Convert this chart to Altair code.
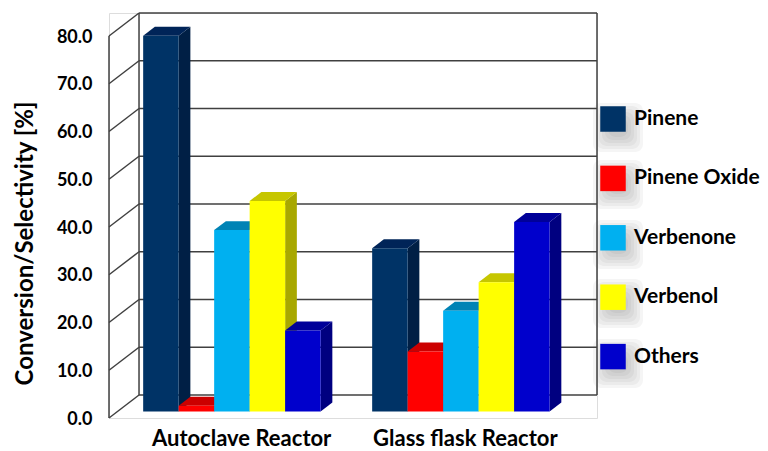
import altair as alt
import pandas as pd

reactors = ["Autoclave Reactor", "Glass flask Reactor"]
series = ["Pinene", "Pinene Oxide", "Verbenone", "Verbenol", "Others"]
autoclave = [78.7, 1.2, 38.0, 44.1, 17.0]
glass = [34.2, 12.6, 21.1, 27.1, 39.7]
ticks = [0, 10, 20, 30, 40, 50, 60, 70, 80]

front_colors = ["#003366", "#ff0000", "#00b0f0", "#ffff00", "#0000cc"]
side_colors = ["#001f45", "#b00000", "#00769f", "#a8a800", "#000080"]
top_colors = ["#002458", "#cc0000", "#0083b5", "#c6c600", "#000099"]
WALL = "#404040"
FONT = "Lato"

# projection of the 3D box
DEPTH_X, DEPTH_Y = 0.1311, 4.82
NEAR, FAR = 0.28, 0.67
BAR_W = 0.155
X_MAX = 2.1311
Y_MAX = 84.82


def px_u(px):
    return (px - 109.5) / 228.75


def px_v(py):
    return (418 - py) / 4.775


fronts, faces = [], []
face_id = 0
for g, values in enumerate([autoclave, glass]):
    start = g + 0.5 - 2.5 * BAR_W
    for i, v in enumerate(values):
        x0 = start + i * BAR_W
        x1 = x0 + BAR_W
        nx, ny = NEAR * DEPTH_X, NEAR * DEPTH_Y
        fx, fy = FAR * DEPTH_X, FAR * DEPTH_Y
        fronts.append(dict(series=series[i], x=x0 + nx, x2=x1 + nx, y=ny, y2=v + ny))
        for px, lo, hi in [(x1 + nx, ny, v + ny), (x1 + fx, fy, v + fy)]:
            faces.append(dict(id=f"f{face_id:02d}", shade=side_colors[i], x=px, lo=lo, hi=hi))
        face_id += 1
        for px, lo, hi in [
            (x0 + nx, v + ny, v + ny),
            (x0 + fx, v + ny, v + fy),
            (x1 + nx, v + ny, v + fy),
            (x1 + fx, v + fy, v + fy),
        ]:
            faces.append(dict(id=f"f{face_id:02d}", shade=top_colors[i], x=px, lo=lo, hi=hi))
        face_id += 1

walls = []
for t in ticks:
    walls.append(dict(x=DEPTH_X, x2=2 + DEPTH_X, y=t + DEPTH_Y, y2=t + DEPTH_Y))
    walls.append(dict(x=0, x2=DEPTH_X, y=t, y2=t + DEPTH_Y))
walls.append(dict(x=0, x2=0, y=0, y2=80))
walls.append(dict(x=DEPTH_X, x2=DEPTH_X, y=DEPTH_Y, y2=Y_MAX))
walls.append(dict(x=2 + DEPTH_X, x2=2 + DEPTH_X, y=DEPTH_Y, y2=Y_MAX))

shadows = []
for cy in [118, 175, 235, 294, 354]:
    for e in [2, 5, 8, 11, 14, 17]:
        shadows.append(dict(x=px_u(610 - e), x2=px_u(626 + e), y=px_v(cy + 2 - e), y2=px_v(cy + 17 + e)))

x_scale = alt.Scale(domain=[0, X_MAX], nice=False, zero=False)
y_scale = alt.Scale(domain=[0, Y_MAX], nice=False, zero=False)
y_axis = alt.Axis(
    values=ticks,
    format=".1f",
    title="Conversion/Selectivity [%]",
    titleFont=FONT,
    titleFontSize=24,
    titleFontWeight="bold",
    titleColor="#000000",
    titlePadding=19,
    titleY=230,
    labelFont=FONT,
    labelFontSize=18,
    labelFontWeight="bold",
    labelColor="#000000",
    labelPadding=17,
    labelOffset=1,
    labelOverlap=False,
    domain=False,
    ticks=False,
    grid=False,
)
X = alt.X("x:Q", scale=x_scale, axis=None)
Y = alt.Y("y:Q", scale=y_scale, axis=y_axis)

wall_layer = alt.Chart(pd.DataFrame(walls)).mark_rule(color=WALL, strokeWidth=1.5).encode(
    x=X, x2="x2:Q", y=Y, y2="y2:Q"
)
shadow_layer = alt.Chart(pd.DataFrame(shadows)).mark_rect(
    color="#555555", opacity=0.06, cornerRadius=8, clip=False
).encode(x=X, x2="x2:Q", y=Y, y2="y2:Q")

face_layer = alt.Chart(pd.DataFrame(faces)).mark_area(interpolate="linear", orient="vertical").encode(
    x=X,
    y=alt.Y("lo:Q", scale=y_scale, axis=y_axis, stack=None),
    y2="hi:Q",
    detail="id:N",
    fill=alt.Fill("shade:N", scale=None),
)

front_layer = alt.Chart(pd.DataFrame(fronts)).mark_rect().encode(
    x=X,
    x2="x2:Q",
    y=Y,
    y2="y2:Q",
    color=alt.Color(
        "series:N",
        scale=alt.Scale(domain=series, range=front_colors),
        legend=alt.Legend(
            title=None,
            orient="none",
            legendX=491,
            legendY=93,
            symbolType="square",
            symbolSize=650,
            symbolStrokeWidth=0,
            symbolOpacity=1,
            rowPadding=33.4,
            labelFont=FONT,
            labelFontSize=21,
            labelFontWeight="bold",
            labelColor="#000000",
            labelOffset=8,
            labelLimit=200,
        ),
    ),
)

cat_layer = alt.Chart(pd.DataFrame({"x": [px_u(242), px_u(465.5)], "label": reactors})).mark_text(
    font=FONT, fontSize=22, fontWeight="bold", color="#000000", baseline="alphabetic"
).encode(x=X, y=alt.value(433), text="label:N")

chart = alt.layer(wall_layer, shadow_layer, face_layer, front_layer, cat_layer).properties(
    width=488,
    height=405,
    autosize=alt.AutoSizeParams(type="none"),
    padding={"left": 101, "top": 5, "right": 163, "bottom": 33},
).configure_view(stroke="transparent", strokeWidth=0).configure(background="#ffffff")

chart.save("out.html", embed_options={"renderer": "svg", "actions": False})
